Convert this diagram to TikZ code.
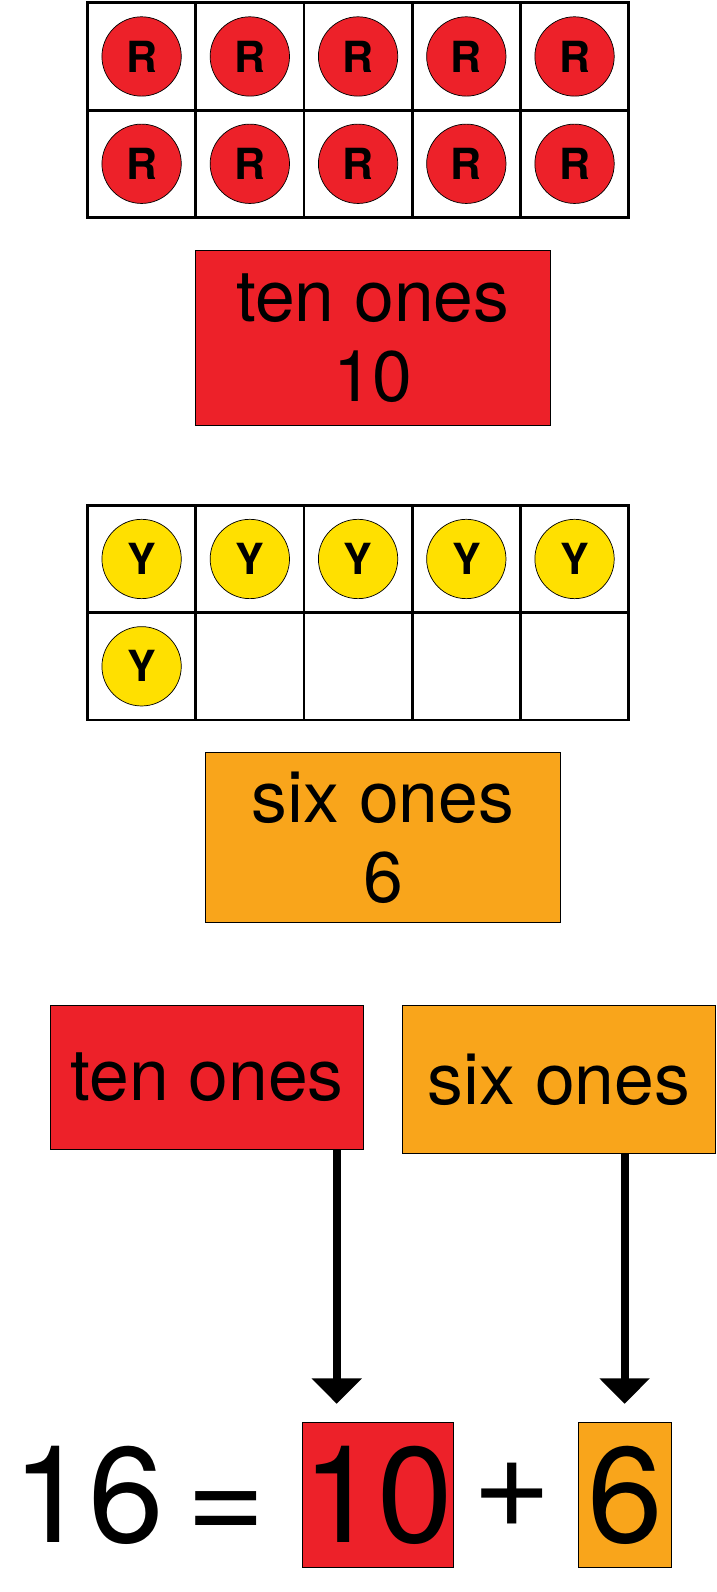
\documentclass[tikz,border=0pt]{standalone}
\usepackage{fontspec}
\setmainfont{TeX Gyre Heros}
\usetikzlibrary{positioning, arrows.meta}
\definecolor{tenred}{HTML}{ED2129}
\definecolor{sixorange}{HTML}{F9A51B}
\definecolor{cntyellow}{HTML}{FFE000}

\begin{document}
\begin{tikzpicture}[x=0.05cm, y=-0.05cm,
% Define custom styles
    cell/.style={
        draw, line width=4pt,
        minimum width=5.32cm,
        minimum height=5.28cm
        },
    counter/.style={
        circle, draw, line width=1pt,
        minimum size=3.9cm, inner sep=0pt,
        font=\fontsize{60}{60}\selectfont\bfseries
        },
    labelbox/.style={
        draw, line width=1.2pt, align=center,
        font=\fontsize{100}{112}\selectfont
        },
    numbox/.style={
        draw, line width=1.2pt, inner sep=0pt,
        font=\fontsize{190}{190}\selectfont
        },
    bigarrow/.style={
        line width=0.4cm, -{Triangle[width=2.4cm, length=1.25cm]}
        }
]
\useasboundingbox (0,0) rectangle (704,1565);

% ten frame of red counters
\foreach \c in {0,...,4} {
  \foreach \r in {0,1} {
    \node[cell] (a\c\r) at (139.2+106.4*\c, 55.5+105.5*\r) {};
    \node[counter, fill=tenred] (ra\c\r) at (a\c\r) {R};
  }
}
\node[labelbox, fill=tenred, minimum width=17.45cm, minimum height=8.6cm] (tenbox) at (366.5,332) {ten ones\\10};

% ten frame of yellow counters
\foreach \c in {0,...,4} {
  \foreach \r in {0,1} {
    \node[cell] (b\c\r) at (139.2+106.4*\c, 549.5+105.5*\r) {};
  }
  \node[counter, fill=cntyellow] (yb\c) at (b\c0) {Y};
}
\node[counter, fill=cntyellow] (yb5) at (b01) {Y};
\node[labelbox, fill=sixorange, minimum width=17.45cm, minimum height=8.35cm] (sixbox) at (376.5,823.5) {six ones\\6};

% the two parts
\node[labelbox, fill=tenred, minimum width=15.35cm, minimum height=7.1cm] (tenpart) at (203.5,1059) {ten ones};
\node[labelbox, fill=sixorange, minimum width=15.35cm, minimum height=7.3cm] (sixpart) at (549.5,1061) {six ones};

% equation
\node[font=\fontsize{190}{190}\selectfont] (lhs) at (137,1470) {16\,=};
\node[numbox, fill=tenred, minimum width=6.15cm, minimum height=7.15cm] (tennum) at (371.5,1469.5) {10};
\node[font=\fontsize{190}{190}\selectfont] (plus) at (503,1470) {+};
\node[numbox, fill=sixorange, minimum width=4.55cm, minimum height=7.15cm] (sixnum) at (614.5,1469.5) {6};

\coordinate (tenend) at (331,1380);
\coordinate (sixend) at (614,1380);
\draw[bigarrow] (tenpart.south -| tenend) -- (tenend);
\draw[bigarrow] (sixpart.south -| sixend) -- (sixend);
\end{tikzpicture}
\end{document}
